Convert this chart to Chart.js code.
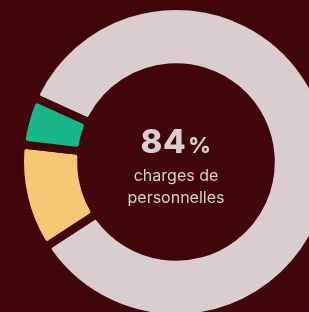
<!DOCTYPE html>
<html>
<head>
<meta charset="utf-8">
<script src="https://cdn.jsdelivr.net/npm/chart.js@4"></script>
<style>
  html, body { margin: 0; padding: 0; background: #40060a; width: 309px; height: 312px; overflow: hidden; }
  #wrap { position: absolute; left: 0; top: 0; width: 352px; height: 324px; }
  #centre { position: absolute; left: 76px; top: 122px; width: 200px; text-align: center; color: #d9cdce; font-family: Inter, "Open Sans", sans-serif; }
  #centre .big { font-size: 33px; font-weight: 800; line-height: 38px; letter-spacing: 0.5px; }
  #centre .big small { font-size: 22px; font-weight: 800; margin-left: 2px; }
  #centre .lbl { font-size: 16px; line-height: 22px; }
</style>
</head>
<body>
<div id="wrap"><canvas id="donut" width="352" height="324"></canvas></div>
<div id="centre">
  <div class="big">84<small>%</small></div>
  <div class="lbl">charges de<br>personnelles</div>
</div>
<script>
// valeurs
const labels = ['Charges de personnelles', 'Autres charges', 'Divers'];
const values = [84, 11, 5];
const colors = ['#d9cdce', '#f5c873', '#17b78a'];
const bg = '#40060a';

const ctx = document.getElementById('donut').getContext('2d');
new Chart(ctx, {
  type: 'doughnut',
  data: {
    labels: labels,
    datasets: [{
      data: values,
      backgroundColor: colors,
      borderColor: bg,
      borderWidth: 8,
      borderRadius: 6
    }]
  },
  options: {
    responsive: false,
    animation: false,
    rotation: 294.5,
    radius: 156,
    cutout: 96,
    layout: { padding: 0 },
    events: [],
    plugins: { legend: { display: false }, tooltip: { enabled: false } }
  }
});
</script>
</body>
</html>
